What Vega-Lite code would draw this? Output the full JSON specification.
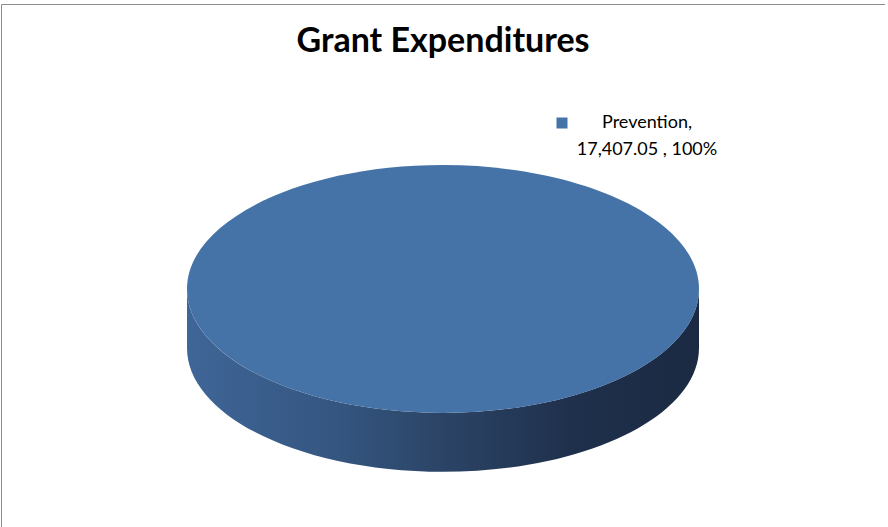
{
  "$schema": "https://vega.github.io/schema/vega-lite/v6.json",
  "autosize": "none",
  "width": 884,
  "height": 570,
  "padding": {"left": 1, "top": 4, "right": 0, "bottom": 0},
  "background": "white",
  "config": {
    "font": "Lato",
    "view": {"stroke": "#8c8c8c", "strokeWidth": 1},
    "style": {"guide-label": {"lineHeight": 27}}
  },
  "title": {
    "text": "Grant Expenditures",
    "font": "Lato",
    "fontSize": 34,
    "fontWeight": "bold",
    "color": "#000000",
    "anchor": "middle",
    "frame": "group",
    "offset": -55
  },
  "data": {"values": [{"category": "Prevention", "amount": 17407.05, "share": 1}]},
  "encoding": {
    "x": {"field": "category", "type": "nominal", "scale": {"type": "point"}, "axis": null},
    "y": {"field": "category", "type": "nominal", "scale": {"type": "point"}, "axis": null}
  },
  "layer": [
    {
      "mark": {
        "type": "point",
        "shape": "M -1 0 L -1 0.23 A 1 0.484 0 0 0 1 0.23 L 1 0 A 1 0.484 0 0 1 -1 0 Z",
        "size": 262144,
        "filled": true,
        "opacity": 1,
        "strokeWidth": 0,
        "fill": {
          "gradient": "linear",
          "x1": 0, "y1": 0, "x2": 1, "y2": 0,
          "stops": [
            {"offset": 0, "color": "#3f6698"},
            {"offset": 0.3, "color": "#34557f"},
            {"offset": 0.5, "color": "#2b4466"},
            {"offset": 0.75, "color": "#1f304c"},
            {"offset": 1, "color": "#1b2a42"}
          ]
        }
      }
    },
    {
      "mark": {
        "type": "point",
        "shape": "M -1 0 A 1 0.484 0 1 1 1 0 A 1 0.484 0 1 1 -1 0 Z",
        "size": 262144,
        "filled": true,
        "opacity": 1,
        "strokeWidth": 0
      },
      "encoding": {
        "color": {
          "field": "category",
          "type": "nominal",
          "scale": {"range": ["#4572a7"]},
          "legend": {
            "title": null,
            "orient": "none",
            "legendX": 552,
            "legendY": 110,
            "padding": 0,
            "symbolType": "square",
            "symbolSize": 121,
            "symbolStrokeWidth": 0,
            "symbolOpacity": 1,
            "labelFont": "Lato",
            "labelFontSize": 18,
            "labelColor": "#000000",
            "labelAlign": "center",
            "labelBaseline": "middle",
            "labelOffset": 76,
            "labelLimit": 0,
            "labelExpr": "[datum.label + ',', '17,407.05 , 100%']"
          }
        }
      }
    }
  ]
}
